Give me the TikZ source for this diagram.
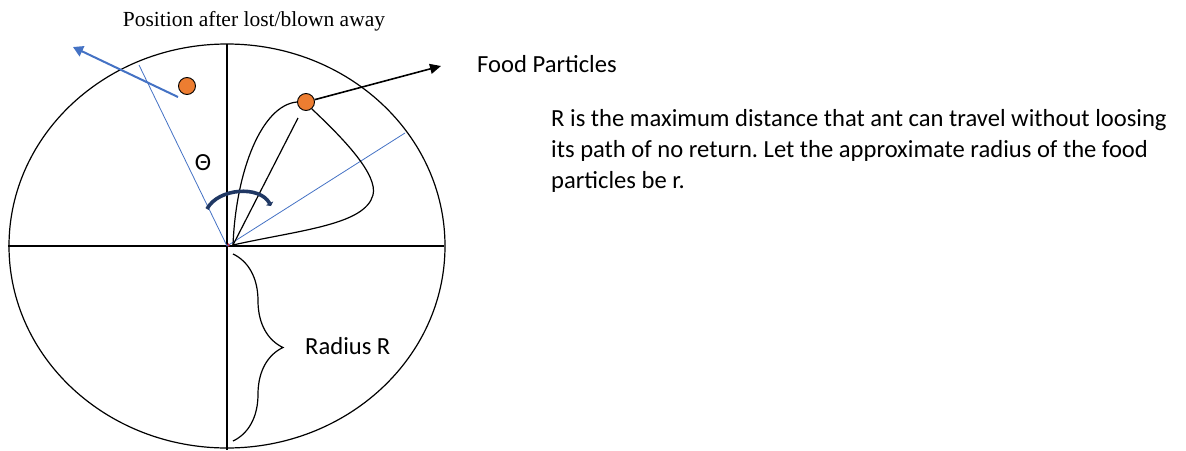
\documentclass[tikz,border=0pt]{standalone}
\usepackage{fontspec}
\setmainfont{Carlito}
\newfontfamily\capfont{Liberation Serif}
\usetikzlibrary{arrows.meta,decorations.pathreplacing}
\definecolor{foodorange}{HTML}{ED7D31}
\definecolor{lineblue}{HTML}{4472C4}
\definecolor{arcnavy}{HTML}{203864}
\frenchspacing
\tikzset{
  axis/.style={line width=1.2pt},
  ray/.style={lineblue,line width=0.8pt},
  food/.style={circle,draw=black,line width=0.9pt,fill=foodorange,minimum size=17pt,inner sep=0pt},
  txt/.style={font=\fontsize{24.6}{31}\selectfont,inner sep=0pt}
}
\begin{document}
\begin{tikzpicture}[x=1pt,y=-1pt]
	\useasboundingbox (0,0) rectangle (1186,450);
	% the range of the ant
	\coordinate (O) at (227,246);
	\draw[axis] (O) ellipse [x radius=218pt, y radius=202pt];
	\draw[axis] (8,246) -- (444,246);
	\draw[axis] (227,44) -- (227,450);
	\fill[red] (228.5,245) circle(1.6pt);
	% food particles
	\node[food] (lost) at (187,86) {};
	\node[food] (food) at (306,102) {};
	% rays from the nest
	\coordinate (rayL) at (139,65);
	\coordinate (rayR) at (405,133);
	\draw[ray] (O) -- (rayL);
	\draw[ray] (O) -- (rayR);
	% path of the ant
	\coordinate (start) at (233,245);
	\draw[line width=1.2pt] (start) .. controls (236,170) and (262,105) .. (food.west);
	\draw[line width=1.2pt] (food.-50) .. controls (345,140) and (378,175) .. (373,195)
		.. controls (365,225) and (300,230) .. (start);
	\draw[line width=1.2pt] (start) -- (298,118);
	% arrows
	\coordinate (away) at (73,47);
	\draw[lineblue,line width=2pt,-{Triangle[width=11pt,length=10pt]}] (178,97) -- (away);
	\coordinate (foodtip) at (441,66);
	\draw[line width=1.6pt,-{Triangle[width=10pt,length=11pt]}] (food.15) -- (foodtip);
	\draw[arcnavy,line width=3.6pt,-{Triangle[width=8pt,length=3pt]}] (207,209) .. controls (218,188) and (260,185) .. (271,206);
	% radius brace
	\draw[line width=1.2pt,decorate,decoration={brace,amplitude=50pt}] (233,254) -- (233,441);
	% labels
	\node[txt] (theta) at (203,163) {Θ};
	\node[font=\capfont\fontsize{21.5}{24}\selectfont,inner sep=0pt] (lostlbl) at (254,21) {Position after lost/blown away};
	\node[txt,anchor=west] (foodlbl) at (477,64) {Food Particles};
	\node[txt,anchor=west] (radius) at (305,346) {Radius R};
	\node[txt,anchor=north west,align=left] (note) at (551,109)
		{R is the maximum distance that ant can travel without loosing\\
		its path of no return. Let the approximate radius of the food\\
		particles be r.};
\end{tikzpicture}
\end{document}
